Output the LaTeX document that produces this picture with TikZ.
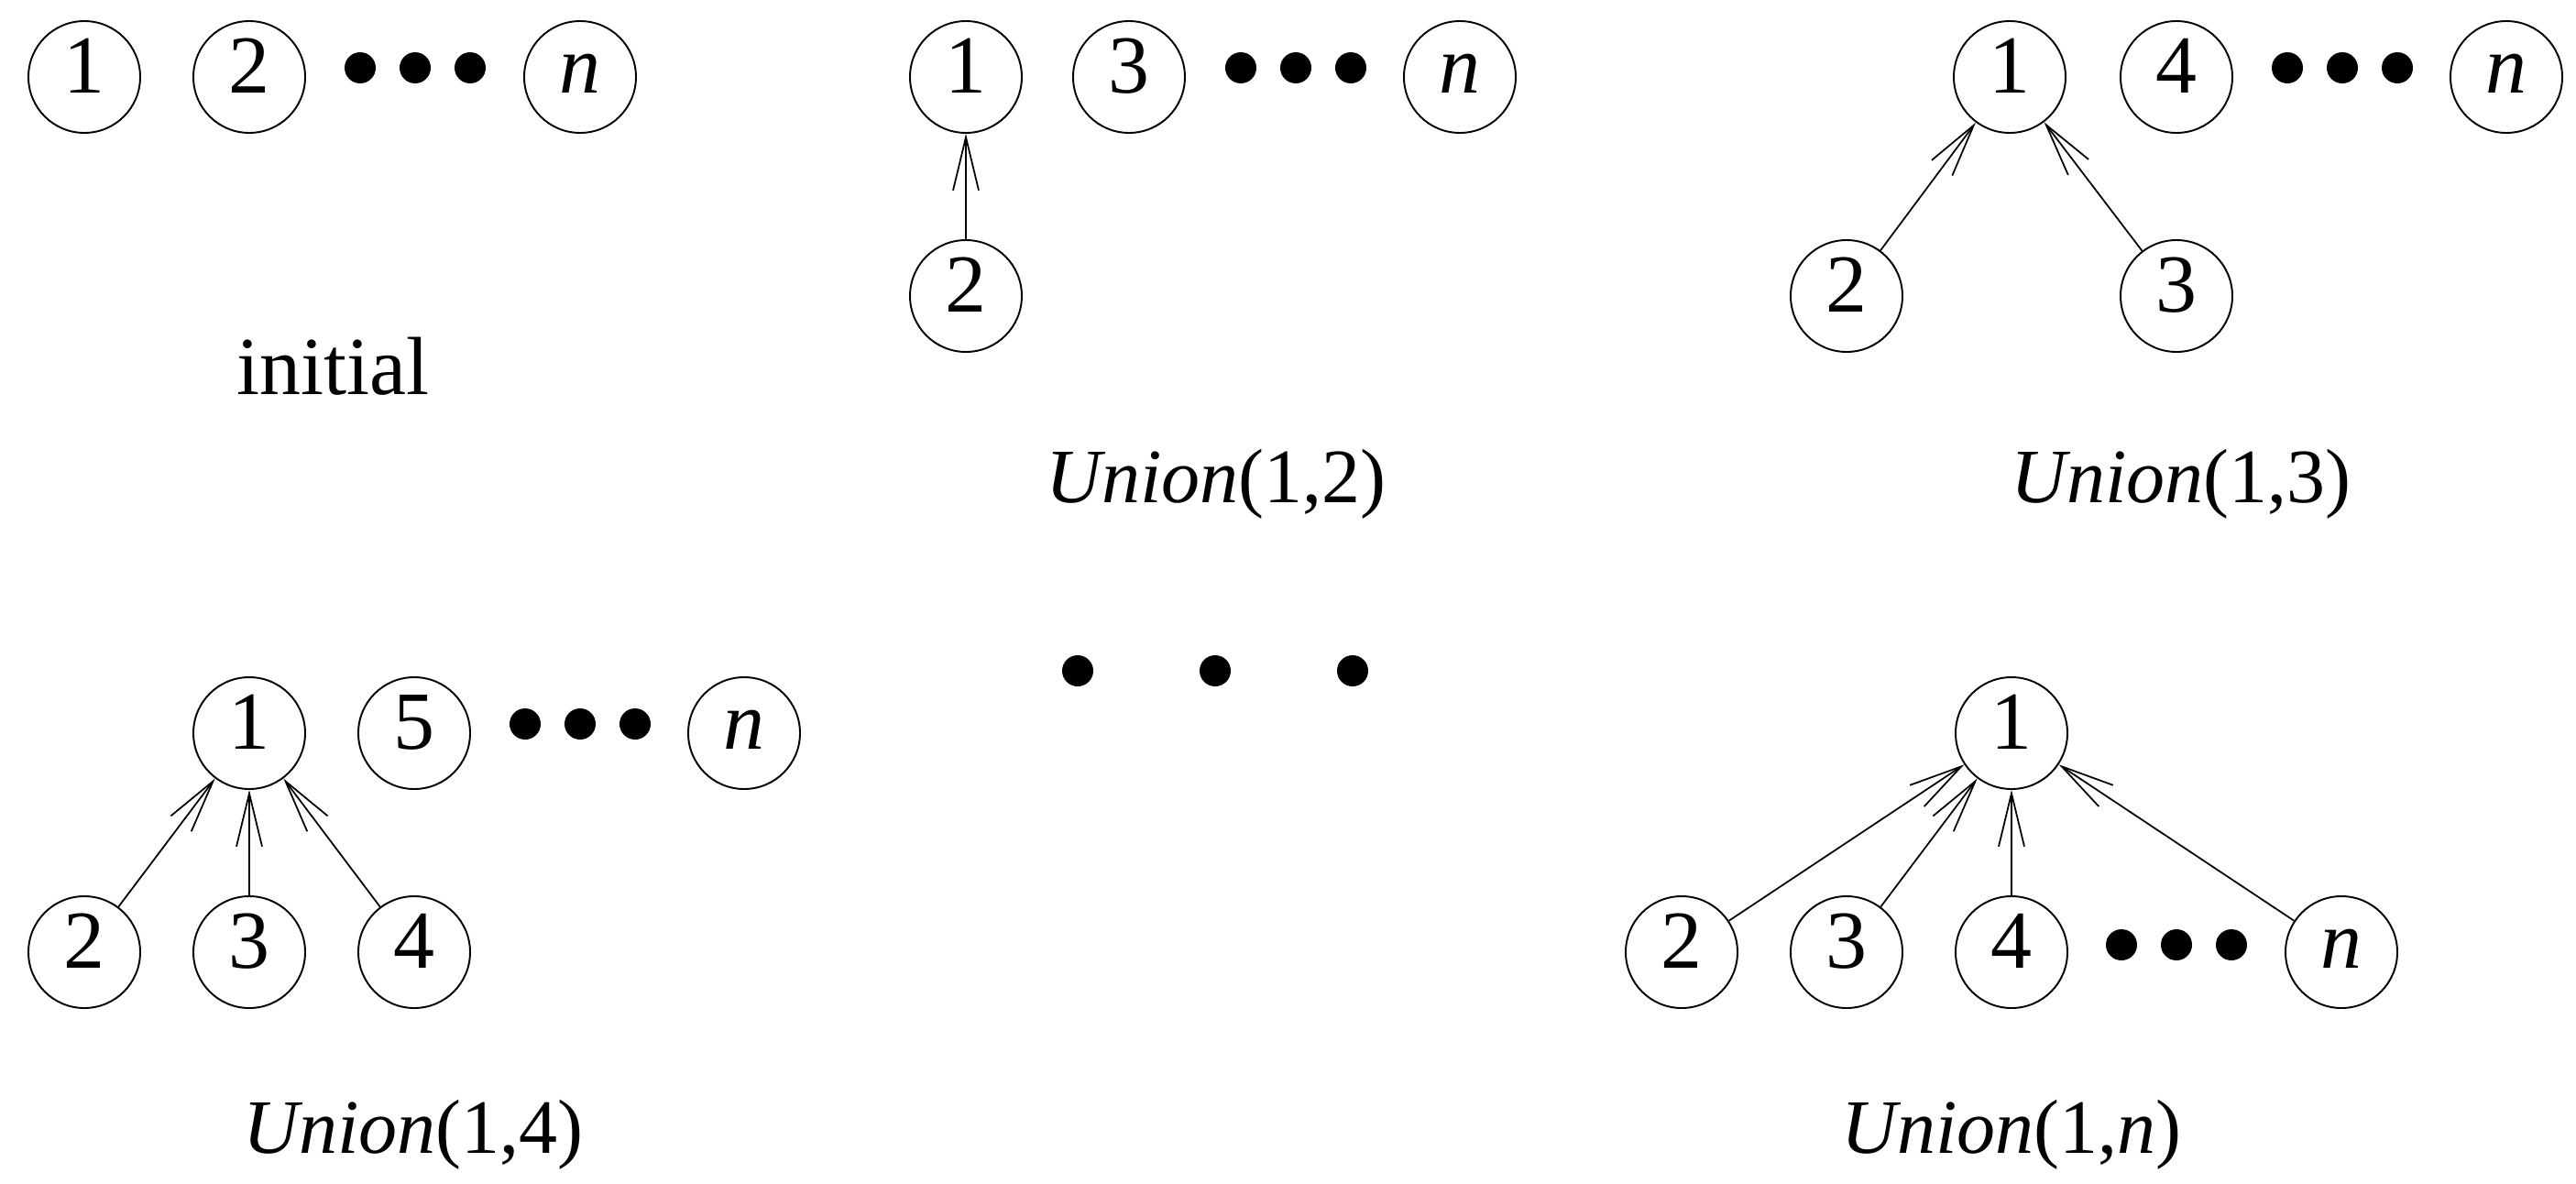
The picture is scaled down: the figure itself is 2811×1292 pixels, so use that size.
\documentclass[tikz,border=0pt]{standalone}
\usepackage{fontspec}
\setmainfont{Liberation Serif}
\usetikzlibrary{arrows.meta}

\begin{document}
\begin{tikzpicture}[x=0.1mm,y=-0.1mm,>={Straight Barb[length=5.8mm,width=2.8mm]}]
    \tikzstyle{node}=[draw, circle, line width=0.55pt, minimum size=12.2mm, inner sep=0pt, text height=6.2mm, text depth=2.8mm, font=\fontsize{25.6}{30}\selectfont]
    \tikzstyle{dot}=[circle, fill, inner sep=0pt, minimum size=3.4mm]
    \tikzstyle{lab}=[anchor=base, inner sep=0pt, font=\fontsize{23.9}{28}\selectfont]
    \tikzstyle{link}=[->, line width=0.5pt]

    \useasboundingbox (0,0) rectangle (2811,1292);

    % initial
    \node[node] (a1) at (92,84)   {1};
    \node[node] (a2) at (272,84)  {2};
    \node[dot]  (ad1) at (393,74) {};
    \node[dot]  (ad2) at (453,74) {};
    \node[dot]  (ad3) at (513,74) {};
    \node[node] (an) at (633,84)  {\textit{n}};
    \node[lab, font=\fontsize{25.6}{30}\selectfont] (al) at (363,430) {initial};

    % Union(1,2)
    \node[node] (b1) at (1054,84)  {1};
    \node[node] (b3) at (1232,84)  {3};
    \node[dot]  (bd1) at (1354,74) {};
    \node[dot]  (bd2) at (1414,74) {};
    \node[dot]  (bd3) at (1474,74) {};
    \node[node] (bn) at (1593,84)  {\textit{n}};
    \node[node] (b2) at (1054,323) {2};
    \node[lab]  (bl) at (1327,548) {\textit{Union}(1,2)};

    % Union(1,3)
    \node[node] (c1) at (2193,84)  {1};
    \node[node] (c4) at (2375,84)  {4};
    \node[dot]  (cd1) at (2496,74) {};
    \node[dot]  (cd2) at (2556,74) {};
    \node[dot]  (cd3) at (2616,74) {};
    \node[node] (cn) at (2735,84)  {\textit{n}};
    \node[node] (c2) at (2015,323) {2};
    \node[node] (c3) at (2375,323) {3};
    \node[lab]  (cl) at (2380,548) {\textit{Union}(1,3)};

    % Union(1,4)
    \node[node] (d1) at (272,800)  {1};
    \node[node] (d5) at (452,800)  {5};
    \node[dot]  (dd1) at (573,790) {};
    \node[dot]  (dd2) at (633,790) {};
    \node[dot]  (dd3) at (693,790) {};
    \node[node] (dn) at (812,800)  {\textit{n}};
    \node[node] (d2) at (92,1039)  {2};
    \node[node] (d3) at (272,1039) {3};
    \node[node] (d4) at (452,1039) {4};
    \node[lab]  (dl) at (451,1258) {\textit{Union}(1,4)};

    % steps in between
    \node[dot]  (m1) at (1176,732) {};
    \node[dot]  (m2) at (1326,732) {};
    \node[dot]  (m3) at (1476,732) {};

    % Union(1,n)
    \node[node] (e1) at (2195,800)  {1};
    \node[node] (e2) at (1835,1039) {2};
    \node[node] (e3) at (2015,1039) {3};
    \node[node] (e4) at (2195,1039) {4};
    \node[dot]  (ed1) at (2315,1031) {};
    \node[dot]  (ed2) at (2375,1031) {};
    \node[dot]  (ed3) at (2435,1031) {};
    \node[node] (en) at (2555,1039) {\textit{n}};
    \node[lab]  (el) at (2195,1258) {\textit{Union}(1,\textit{n})};

    \path[link]
     (b2) edge (b1)
     (c2) edge (c1)
     (c3) edge (c1)
     (d2) edge (d1)
     (d3) edge (d1)
     (d4) edge (d1)
     (e2) edge (e1)
     (e3) edge (e1)
     (e4) edge (e1)
     (en) edge (e1)
     ;
\end{tikzpicture}
\end{document}
